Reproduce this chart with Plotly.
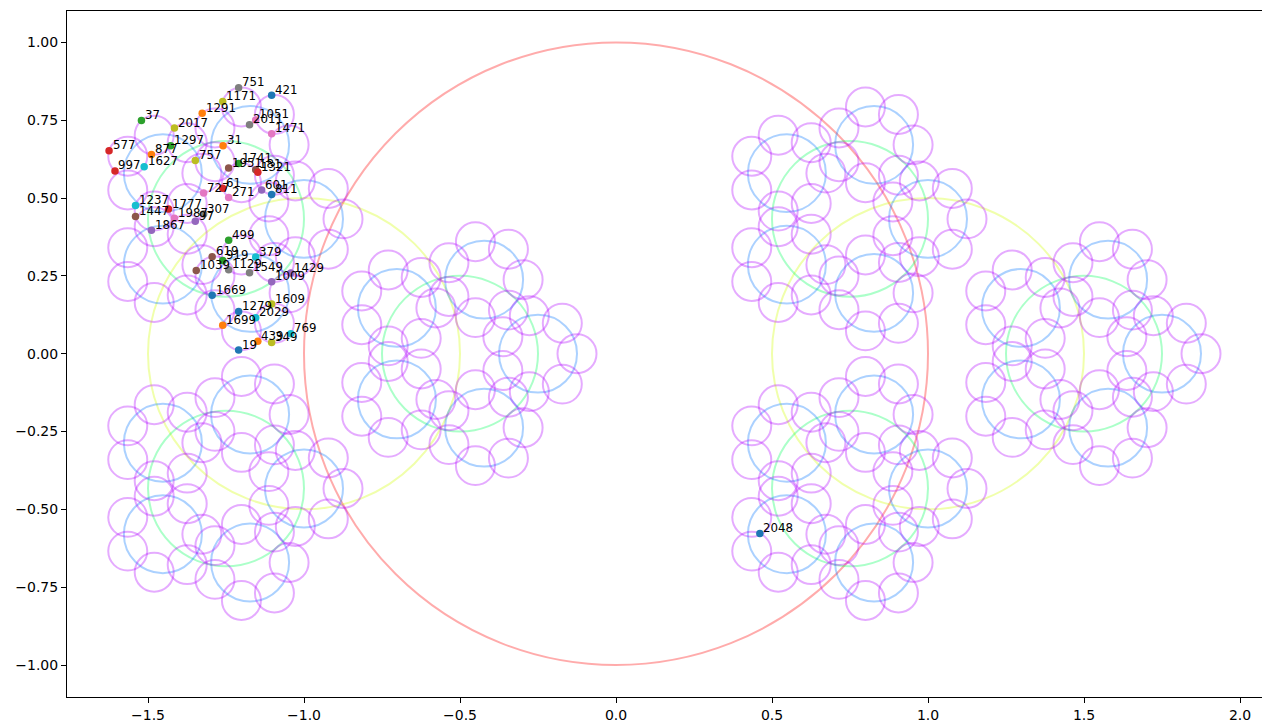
import math
import plotly.graph_objects as go

# Goldbach partition primes of 2048 (p + q = 2048) plus 2048 itself
labels = [19, 31, 37, 61, 97, 181, 271, 307, 349, 379, 421, 439, 499, 577, 601,
          619, 727, 751, 757, 769, 811, 877, 919, 997, 1009, 1039, 1051, 1129,
          1171, 1237, 1279, 1291, 1297, 1321, 1429, 1447, 1471, 1549, 1609, 1627,
          1669, 1699, 1741, 1777, 1867, 1951, 1987, 2011, 2017, 2029, 2048]
point_x = [-1.2095, -1.2594, -1.521, -1.2605, -1.3484, -1.1548, -1.2415, -1.3217,
           -1.1037, -1.1548, -1.1037, -1.148, -1.2415, -1.6248, -1.1357, -1.2943,
           -1.3217, -1.2095, -1.3484, -1.0422, -1.1037, -1.489, -1.2605, -1.6058,
           -1.1037, -1.3453, -1.1548, -1.2415, -1.2605, -1.54, -1.2095, -1.3263,
           -1.4275, -1.148, -1.0422, -1.54, -1.1037, -1.1746, -1.1037, -1.5123,
           -1.2943, -1.2605, -1.2095, -1.4343, -1.489, -1.2415, -1.4152, -1.1746,
           -1.4152, -1.1548, 0.4611]
point_y = [0.0115, 0.6682, 0.7491, 0.5313, 0.4254, 0.5907, 0.5017, 0.4484, 0.0357,
           0.3106, 0.8304, 0.0396, 0.3643, 0.6518, 0.5258, 0.3113, 0.516, 0.8545,
           0.6208, 0.0637, 0.5112, 0.64, 0.2995, 0.587, 0.2311, 0.2671, 0.7509,
           0.2699, 0.8103, 0.4757, 0.1352, 0.7722, 0.668, 0.5827, 0.2592, 0.4405,
           0.7066, 0.2603, 0.1594, 0.6004, 0.1876, 0.091, 0.6108, 0.4646, 0.3962,
           0.5961, 0.435, 0.7358, 0.7249, 0.1151, -0.5773]

# circle construction: each level puts `branches` circles on the parent circle
branches = [1, 2, 3, 5, 7]
radii = [1.0, 0.5, 0.25, 0.125, 0.0625]
level_colors = ["rgba(255,0,0,0.33)", "rgba(209,255,0,0.33)", "rgba(0,255,92,0.33)",
                "rgba(0,116,255,0.33)", "rgba(177,0,255,0.33)"]

tab10 = ["#1f77b4", "#ff7f0e", "#2ca02c", "#d62728", "#9467bd",
         "#8c564b", "#e377c2", "#7f7f7f", "#bcbd22", "#17becf"]

x_ticks = [-1.5, -1.0, -0.5, 0.0, 0.5, 1.0, 1.5, 2.0]
y_ticks = [-1.0, -0.75, -0.5, -0.25, 0.0, 0.25, 0.5, 0.75, 1.0]

shapes = []
centers = [(0.0, 0.0)]
for lvl in range(len(radii)):
    if lvl > 0:
        parent_r = radii[lvl - 1]
        p = branches[lvl]
        new = []
        for (cx, cy) in centers:
            for k in range(p):
                a = 2 * math.pi * k / p
                new.append((cx + parent_r * math.cos(a), cy + parent_r * math.sin(a)))
        centers = new
    r = radii[lvl]
    for (cx, cy) in centers:
        shapes.append(dict(type="circle", xref="x", yref="y", layer="below",
                           x0=cx - r, x1=cx + r, y0=cy - r, y1=cy + r,
                           line=dict(color=level_colors[lvl], width=2)))

fig = go.Figure()
for i, n in enumerate(labels):
    fig.add_trace(go.Scatter(x=[point_x[i]], y=[point_y[i]], mode="markers",
                             marker=dict(size=7.5, color=tab10[i % 10], line=dict(width=0)),
                             showlegend=False, hoverinfo="skip"))

annotations = []
for i, n in enumerate(labels):
    annotations.append(dict(x=point_x[i], y=point_y[i], xref="x", yref="y", text=str(n),
                            showarrow=False, xanchor="left", yanchor="bottom",
                            xshift=1.5, yshift=-3.5,
                            font=dict(family="DejaVu Sans", size=11.8, color="black")))

fig.update_layout(
    width=1262, height=726,
    margin=dict(l=67, r=0, t=11, b=29),
    paper_bgcolor="white", plot_bgcolor="white",
    shapes=shapes, annotations=annotations,
    font=dict(family="DejaVu Sans", size=14, color="black"),
    xaxis=dict(range=[-1.7596, 2.0705], showgrid=False, zeroline=False,
               showline=True, linecolor="black", linewidth=1, mirror=True,
               ticks="outside", ticklen=5, tickwidth=1, tickcolor="black",
               tickvals=x_ticks,
               ticktext=[f"{v:.1f}".replace("-", "\u2212") for v in x_ticks]),
    yaxis=dict(range=[-1.1028, 1.1008], showgrid=False, zeroline=False,
               showline=True, linecolor="black", linewidth=1, mirror=False,
               ticks="outside", ticklen=5, tickwidth=1, tickcolor="black",
               tickvals=y_ticks,
               ticktext=[f"{v:.2f}".replace("-", "\u2212") for v in y_ticks]),
)
fig.write_html("out.html")
